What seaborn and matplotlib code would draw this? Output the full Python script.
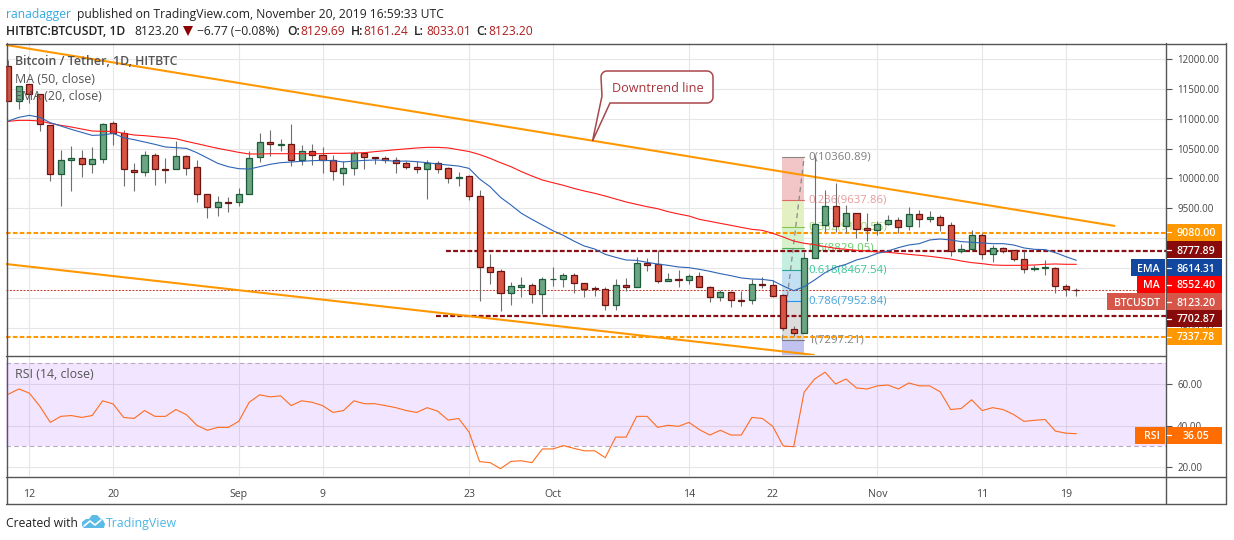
import numpy as np
import pandas as pd
import matplotlib
matplotlib.use("Agg")
import matplotlib.pyplot as plt
from matplotlib.patches import Rectangle, Polygon
from matplotlib.lines import Line2D
import seaborn as sns

W, H = 1234, 540

opens = [11883,11302,11575,11408,10894,10068,10302,10336,10236,10319,10922,10766,10135,10101,10386,10152,10152,10370,10185,9733,
         9515,9599,9599,9733,10353,10604,10565,10570,10302,10453,10386,10302,10096,10168,10420,10353,10336,10302,10252,10185,
         10152,10252,10168,10001,10034,9700,8510,8443,8075,8186,8209,8058,8309,8309,8376,8242,8158,8142,7874,8209,
         8175,8577,8566,8276,8309,8292,8360,8175,8008,8091,7963,7958,8225,8209,8047,7472,7416,8662,9225,9532,
         9209,9415,9164,9142,9242,9298,9209,9398,9315,9348,9214,8779,8812,9047,8740,8829,8801,8645,8477,8494,
         8505,8192,8129.69]
highs = [11983,11548,11575,11408,10894,10476,10543,10476,10520,10922,10961,10811,10252,10453,10420,10336,10621,10392,10308,9733,
         9705,9683,9839,10453,10760,10811,10660,10905,10554,10576,10520,10392,10286,10453,10436,10353,10370,10364,10291,10291,
         10308,10291,10185,10101,10051,9806,8728,8477,8259,8343,8242,8343,8510,8410,8410,8242,8198,8175,8309,8332,
         8678,8667,8800,8410,8466,8398,8426,8198,8130,8119,8114,8309,8343,8298,8058,7528,8760,10365,9806,9918,
         9555,9415,9426,9287,9387,9359,9516,9471,9454,9387,9270,8902,9136,9091,8885,8846,8801,8779,8555,8633,
         8516,8226,8161.24]
lows = [11302,11157,11257,10799,9962,9543,9794,10029,10096,10263,10559,9878,9794,10046,9895,9928,10152,10057,9610,9342,
        9376,9437,9543,9733,10280,10381,10464,10208,10224,10230,10096,9979,9895,10062,10163,10247,10263,10096,10152,10096,
        9660,10096,9928,9878,9638,7946,8231,7784,7885,8019,7918,7729,8203,8186,8086,8019,8036,7801,7801,8119,
        8175,8454,8253,8276,8186,8231,8175,7930,7952,7851,7868,7896,8164,8008,7480,7360,7416,8662,9108,9108,
        9108,9008,8957,9058,9220,9091,9136,9192,9276,9119,8700,8756,8801,8645,8600,8745,8617,8421,8455,8388,
        8086,8036,8033.01]
closes = [11302,11548,11408,10905,10068,10302,10336,10236,10319,10905,10766,10152,10101,10386,10152,10135,10370,10180,9733,9515,
          9599,9594,9733,10336,10604,10570,10570,10302,10453,10386,10302,10118,10168,10420,10353,10336,10302,10252,10185,10152,
          10252,10163,10001,10018,9700,8510,8438,8075,8192,8209,8058,8309,8315,8376,8242,8153,8142,7874,8209,8175,
          8577,8555,8276,8309,8292,8360,8175,8008,8091,7958,7952,8225,8209,8036,7489,7416,8662,9237,9532,9209,
          9415,9153,9142,9231,9298,9192,9398,9326,9348,9214,8779,8812,9047,8740,8829,8779,8645,8477,8500,8516,
          8192,8142,8123.20]
ema20 = [10961,11023,11056,11023,10933,10878,10822,10771,10721,10727,10755,10682,10649,10610,10570,10526,10515,10503,10431,10342,
         10252,10196,10163,10157,10196,10236,10263,10275,10286,10297,10302,10297,10275,10291,10302,10308,10302,10286,10291,10280,
         10263,10241,10224,10207,10168,9990,9861,9683,9554,9415,9314,9219,9124,9046,8951,8868,8817,8728,8678,8633,
         8627,8594,8566,8544,8516,8505,8477,8443,8404,8371,8332,8315,8309,8287,8198,8119,8187,8299,8421,8511,
         8561,8634,8678,8745,8784,8840,8885,8907,8969,8985,8969,8941,8930,8918,8907,8907,8885,8835,8812,8807,
         8756,8689,8628]
ma50 = [10956,10972,10972,10961,10922,10889,10861,10827,10794,10788,10788,10755,10727,10716,10699,10682,10665,10621,10582,10542,
        10503,10470,10436,10409,10409,10414,10414,10414,10414,10414,10414,10420,10420,10425,10431,10448,10464,10481,10495,10510,
        10520,10520,10510,10480,10450,10400,10336,10263,10196,10113,10040,9973,9928,9884,9833,9789,9750,9705,9655,9605,
        9565,9526,9493,9443,9404,9370,9314,9281,9247,9214,9180,9147,9130,9080,9018,8951,8913,8890,8857,8829,
        8812,8795,8784,8768,8762,8745,8728,8712,8695,8673,8650,8617,8589,8572,8550,8544,8544,8544,8550,8561,
        8567,8561,8561]
rsi14 = [55.1,57.6,55.6,49.3,41.5,44.4,44.8,43.9,44.8,51.9,50.4,43.9,43.4,47.2,44.4,44.4,47.7,45.2,40.1,37.7,
         39.1,39.1,42.0,51.2,54.8,53.8,54.3,49.6,51.9,51.2,49.6,46.3,47.2,51.9,50.5,50.5,49.6,48.6,47.2,46.3,
         48.6,46.9,42.6,43.4,36.8,22.6,22.1,19.2,22.7,23.0,22.1,28.7,28.7,30.3,29.0,27.8,27.8,24.5,34.4,34.4,
         44.4,44.4,39.1,40.1,39.6,41.5,38.0,35.4,37.7,35.4,35.4,43.9,43.4,39.6,30.1,29.8,56.1,62.4,65.7,60.0,
         62.4,58.1,57.6,59.1,59.5,57.6,60.5,59.1,59.1,56.2,47.7,48.2,52.4,47.2,48.6,47.7,45.3,42.0,42.5,42.9,
         37.3,36.3,36.05]

date_tick_pos = [2, 10, 22, 30, 44, 52, 65, 73, 83, 93, 101]
date_tick_labels = ["12", "20", "Sep", "9", "23", "Oct", "14", "22", "Nov", "11", "19"]
price_ticks = [7500, 8000, 8500, 9000, 9500, 10000, 10500, 11000, 11500, 12000]
price_tick_labels = ["7500.00", "", "", "", "9500.00", "10000.00", "10500.00", "11000.00", "11500.00", "12000.00"]
rsi_ticks = [20, 40, 60]

fib_ratio = ["0", "0.236", "0.382", "0.5", "0.618", "0.786", "1"]
fib_price = [10360.89, 9637.86, 9190.56, 8829.05, 8467.54, 7952.84, 7297.21]
fib_next = 5403.9
fib_label_col = ["#7f7f7f", "#e69a9a", "#9ed465", "#63cc63", "#35c896", "#46a3d8", "#7f7f7f"]
fib_line_col = ["#888888", "#e06666", "#8bc34a", "#4caf50", "#26a69a", "#2196f3", "#777777"]
fib_fill_col = ["#f2c6c6", "#e3f0c2", "#d6f2cd", "#c4efe0", "#c3dff2", "#dcdcdc", "#c2c2f0"]

upper_channel_x, upper_channel_y = [-0.23, 105.7], [12235, 9203]
lower_channel_x, lower_channel_y = [-0.23, 77.0], [8566, 7042]
orange_levels = [9080.00, 7337.78]
red_levels = [8777.89, 7702.87]
red_level_start = [41.8, 40.8]
last_price = 8123.20

df = pd.DataFrame({"i": np.arange(len(opens)), "o": opens, "h": highs, "l": lows, "c": closes,
                   "ema": ema20, "ma": ma50, "rsi": rsi14})

sns.set_theme(style="white")
plt.rcParams["font.family"] = ["Open Sans", "DejaVu Sans"]

fig = plt.figure(figsize=(W / 100, H / 100), dpi=100, facecolor="white")

def rect(x0, y0, x1, y1):
    return [x0 / W, 1 - y1 / H, (x1 - x0) / W, (y1 - y0) / H]

def fx(x): return x / W
def fy(y): return 1 - y / H

ax = fig.add_axes(rect(6, 43, 1166, 355))
ar = fig.add_axes(rect(6, 355, 1166, 476), sharex=ax)
GRID = "#e6e6e6"
FRAME = "#555555"
XL = (-0.23, 110.56)

for a in (ax, ar):
    a.set_facecolor("white")
    a.set_xlim(*XL)
    for s in a.spines.values():
        s.set_visible(False)
    a.set_axisbelow(True)

ax.set_ylim(7042, 12268)
ar.set_ylim(15.66, 73.98)

for a in (ax, ar):
    a.yaxis.tick_right()
    a.set_xticks(date_tick_pos)
    a.grid(True, color=GRID, lw=0.8)

TICKFS = 7.0
ax.set_yticks(price_ticks, price_tick_labels)
ax.tick_params(axis="y", length=4.5, width=0.8, color=FRAME, pad=3.5, labelsize=TICKFS, labelcolor="#444444")
ax.tick_params(axis="x", length=0, labelbottom=False)
ar.set_yticks(rsi_ticks, [f"{v:.2f}" for v in rsi_ticks])
ar.tick_params(axis="y", length=4.5, width=0.8, color=FRAME, pad=3.5, labelsize=TICKFS, labelcolor="#444444")
ar.set_xticklabels(date_tick_labels)
ar.tick_params(axis="x", length=4, width=0.8, color=FRAME, pad=5.2, labelsize=7.6, labelcolor="#444444", labelbottom=True)

# Fibonacci retracement
fx0, fx1 = 73.9, 76.0
levels = fib_price + [fib_next]
for k in range(7):
    ax.fill_between([fx0, fx1], levels[k], levels[k + 1], color=fib_fill_col[k], lw=0, zorder=1.2)
    ax.plot([fx0, fx1], [fib_price[k]] * 2, color=fib_line_col[k], lw=0.8, zorder=1.3)
    ax.text(76.45, fib_price[k], f"{fib_ratio[k]}({fib_price[k]:.2f})", color=fib_label_col[k],
            fontsize=8.2, va="center", ha="left", zorder=1.4)
ax.plot([fx0, fx1], [fib_price[-1], fib_price[0]], color="#888888", lw=0.9, ls=(0, (4, 3)), zorder=1.5)

# Levels and channel
ax.axhline(last_price, color="#c0392b", lw=0.7, ls=(0, (2, 1.5)), zorder=2)
for v in orange_levels:
    ax.axhline(v, color="#ff9800", lw=1.5, ls=(0, (2.2, 1.1)), zorder=2.1)
for v, s in zip(red_levels, red_level_start):
    ax.plot([s, XL[1]], [v, v], color="#8b0f14", lw=1.6, ls=(0, (2.2, 1.0)), zorder=2.1)
ax.plot(upper_channel_x, upper_channel_y, color="#ff9800", lw=1.5, zorder=2.2, solid_capstyle="butt")
ax.plot(lower_channel_x, lower_channel_y, color="#ff9800", lw=1.5, zorder=2.2, solid_capstyle="butt")

# Candles
ax.vlines(df["i"], df["l"], df["h"], color="#6e6e6e", lw=0.8, zorder=3)
up = df[df["c"] >= df["o"]]
dn = df[df["c"] < df["o"]]
ax.bar(up["i"], up["c"] - up["o"], bottom=up["o"], width=0.58, color="#6ba583", edgecolor="#1c5a38", lw=0.9, zorder=3.1)
ax.bar(dn["i"], dn["o"] - dn["c"], bottom=dn["c"], width=0.58, color="#d75442", edgecolor="#6b1414", lw=0.9, zorder=3.1)

# Moving averages
sns.lineplot(data=df, x="i", y="ma", ax=ax, color="#ff1a1a", lw=0.8, errorbar=None, legend=False, zorder=4)
sns.lineplot(data=df, x="i", y="ema", ax=ax, color="#2e64b5", lw=0.8, errorbar=None, legend=False, zorder=4)
ax.set_xlabel(""); ax.set_ylabel("")

# RSI
ar.axhspan(30, 70, color="#9b30ff", alpha=0.12, lw=0, zorder=1)
for v in (30, 70):
    ar.axhline(v, color="#b8a8c4", lw=0.8, ls=(0, (4, 3)), zorder=1.5)
sns.lineplot(data=df, x="i", y="rsi", ax=ar, color="#ff6d1f", lw=0.8, errorbar=None, legend=False, zorder=3)
ar.set_xlabel(""); ar.set_ylabel("")

# Frames
def hline(x0, x1, y, c=FRAME, lw=1.0):
    fig.add_artist(Line2D([fx(x0), fx(x1)], [fy(y), fy(y)], color=c, lw=lw, zorder=10))
def vline(x, y0, y1, c=FRAME, lw=1.0):
    fig.add_artist(Line2D([fx(x), fx(x)], [fy(y0), fy(y1)], color=c, lw=lw, zorder=10))

hline(6, 1226, 43.5); hline(6, 1226, 503.5); hline(6, 1226, 476.5); hline(6, 1166, 355.5)
vline(6.5, 43, 504); vline(1226, 43, 504); vline(1166, 43, 504)

# Right-side tags
tags = [("9080.00", "", 232, "#ff9800"), ("8777.89", "", 250, "#880b0b"), ("8614.31", "EMA", 267.5, "#11479e"),
        ("8552.40", "MA", 284.5, "#ff0000"), ("8123.20", "BTCUSDT", 301.5, "#d6574a"),
        ("7702.87", "", 318.5, "#880b0b"), ("7337.78", "", 336.5, "#ff9800")]
name_left = {"EMA": 1131, "MA": 1137, "BTCUSDT": 1107, "RSI": 1135}

def tag(val, name, yc, col, h=17):
    fig.add_artist(Rectangle((fx(1166.5), fy(yc + h / 2)), 55 / W, h / H, transform=fig.transFigure, color=col, lw=0, zorder=11))
    fig.add_artist(Line2D([fx(1166.5), fx(1171)], [fy(yc), fy(yc)], color="white", lw=0.9, zorder=12))
    fig.text(fx(1196), fy(yc), val, color="white", fontsize=7.6, fontweight="semibold", ha="center", va="center_baseline", zorder=12)
    if name:
        xl = name_left[name]
        fig.add_artist(Rectangle((fx(xl), fy(yc + h / 2)), (1164.5 - xl) / W, h / H, transform=fig.transFigure, color=col, lw=0, zorder=11))
        fig.text(fx(1160), fy(yc), name, color="white", fontsize=7.6, fontweight="semibold", ha="right", va="center_baseline", zorder=12)

for t in tags:
    tag(*t)
tag("36.05", "RSI", 435, "#ff6d00")

# Legend text
LEG = "#555555"
fig.text(fx(15), fy(60), "Bitcoin / Tether, 1D, HITBTC", color=LEG, fontsize=8.9, fontweight="semibold", va="center_baseline", zorder=12)
fig.text(fx(15), fy(78), "MA (50, close)", color=LEG, fontsize=8.9, va="center_baseline", zorder=12)
fig.text(fx(15), fy(95), "EMA (20, close)", color=LEG, fontsize=8.9, va="center_baseline", zorder=12)
fig.text(fx(15), fy(373), "RSI (14, close)", color=LEG, fontsize=8.9, va="center_baseline", zorder=12)

# Header
hdr = 8.7
fig.text(fx(6), fy(13), "ranadagger", color="#36a9e1", fontsize=hdr, va="center_baseline")
fig.text(fx(77), fy(13), "published on TradingView.com, November 20, 2019 16:59:33 UTC", color="#222222", fontsize=hdr, va="center_baseline")
y2 = 30
fig.text(fx(6), fy(y2), "HITBTC:BTCUSDT, 1D", color="#222222", fontsize=hdr, fontweight="semibold", va="center_baseline")
fig.text(fx(134), fy(y2), "8123.20", color="#222222", fontsize=hdr, va="center_baseline")
fig.add_artist(Polygon([[fx(183), fy(26)], [fx(193), fy(26)], [fx(188), fy(36)]], closed=True, transform=fig.transFigure, color="#8b0000", lw=0))
fig.text(fx(197), fy(y2), "\u22126.77 (\u22120.08%)", color="#222222", fontsize=hdr, va="center_baseline")
for lab, lx, v, vx in [("O:", 287, "8129.69", 300), ("H:", 351, "8161.24", 363), ("L:", 414, "8033.01", 426), ("C:", 476, "8123.20", 488)]:
    fig.text(fx(lx), fy(y2), lab, color="#222222", fontsize=hdr, fontweight="semibold", va="center_baseline")
    fig.text(fx(vx), fy(y2), v, color="#b01c1c", fontsize=hdr, va="center_baseline")

# Footer
fig.text(fx(6), fy(522), "Created with", color="#222222", fontsize=hdr, va="center_baseline")
fig.text(fx(106), fy(522), "TradingView", color="#4db6e6", fontsize=8.9, va="center_baseline")
cloud = [(82, 526), (82, 522), (86, 519), (89, 519), (92, 515), (97, 515), (100, 518), (103, 520), (105, 524), (104, 528), (84, 528)]
fig.add_artist(Polygon([(fx(a), fy(b)) for a, b in cloud], closed=True, transform=fig.transFigure, color="#5cbbe6", lw=0, zorder=5))
fig.add_artist(Line2D([fx(a) for a in (84, 90, 95, 101)], [fy(b) for b in (526, 521, 525, 520)], color="white", lw=1.2, zorder=6))

# Callout
x0, y0, x1, y1 = 601, 71, 713, 103
pts = []
for t in np.linspace(np.pi, np.pi / 2, 8):
    pts.append((x0 + 6 + 6 * np.cos(t), y0 + 6 - 6 * np.sin(t)))
for t in np.linspace(np.pi / 2, 0, 8):
    pts.append((x1 - 6 + 6 * np.cos(t), y0 + 6 - 6 * np.sin(t)))
for t in np.linspace(0, -np.pi / 2, 8):
    pts.append((x1 - 6 + 6 * np.cos(t), y1 - 6 - 6 * np.sin(t)))
pts += [(610, 103), (592.5, 141), (602, 96)]
fig.add_artist(Polygon([(fx(a), fy(b)) for a, b in pts], closed=True, transform=fig.transFigure,
                       facecolor="white", edgecolor="#a8474c", lw=1.1, zorder=7))
fig.text(fx(657.5), fy(86.5), "Downtrend line", color="#a8323a", fontsize=9.1, ha="center", va="center_baseline", zorder=8)

fig.savefig("out.png", dpi=100, facecolor="white")
